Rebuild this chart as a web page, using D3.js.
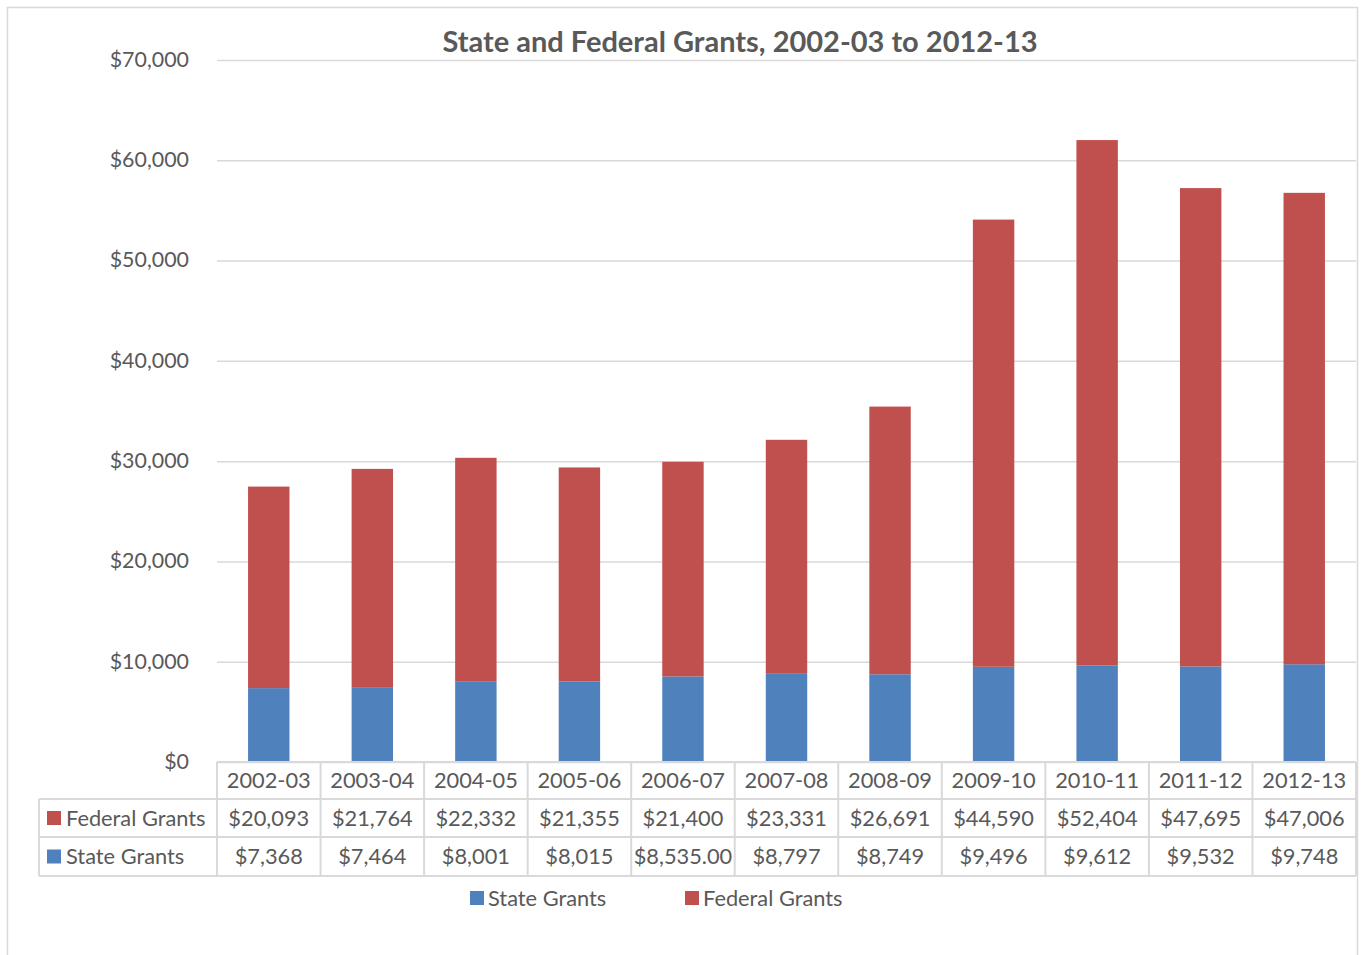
<!DOCTYPE html>
<html>
<head>
<meta charset="utf-8">
<script src="https://cdn.jsdelivr.net/npm/d3@7"></script>
<style>
  html, body { margin: 0; padding: 0; background: #fff; }
  svg { display: block; }
  text { font-family: Lato, "Open Sans", sans-serif; fill: #595959; }
</style>
</head>
<body>
<svg id="chart" width="1364" height="955"></svg>
<script>
// Grant amounts by school year
const years = ["2002-03","2003-04","2004-05","2005-06","2006-07","2007-08","2008-09","2009-10","2010-11","2011-12","2012-13"];
const federalGrants = [20093, 21764, 22332, 21355, 21400, 23331, 26691, 44590, 52404, 47695, 47006];
const stateGrants = [7368, 7464, 8001, 8015, 8535, 8797, 8749, 9496, 9612, 9532, 9748];
const stateLabels = ["$7,368","$7,464","$8,001","$8,015","$8,535.00","$8,797","$8,749","$9,496","$9,612","$9,532","$9,748"];
const yTicks = [0, 10000, 20000, 30000, 40000, 50000, 60000, 70000];

const BLUE = "#4F81BD", RED = "#C0504D", GRID = "#D9D9D9", TEXT = "#595959";
const FS = 21.8;

const svg = d3.select("#chart");

// outer chart frame
svg.append("rect").attr("x", 7.5).attr("y", 7.5).attr("width", 1350).attr("height", 960)
  .attr("fill", "none").attr("stroke", GRID).attr("stroke-width", 1.5);

const plot = { left: 217, right: 1356, top: 60, bottom: 762 };

const x = d3.scaleBand().domain(years).range([plot.left, plot.right]).paddingInner(0).paddingOuter(0);
const y = d3.scaleLinear().domain([0, 70000]).range([plot.bottom, plot.top]);

// gridlines + y labels
const yAxis = d3.axisLeft(y).tickValues(yTicks).tickSize(-(plot.right - plot.left))
  .tickFormat(d => "$" + d3.format(",")(d)).tickPadding(28);
const gy = svg.append("g").attr("transform", `translate(${plot.left},0)`).call(yAxis);
gy.select(".domain").remove();
gy.selectAll(".tick line").attr("stroke", GRID).attr("stroke-width", 1.5);
gy.selectAll(".tick text").attr("font-size", 21.4).style("fill", TEXT)
  .attr("font-family", "Lato, 'Open Sans', sans-serif").attr("dy", "0.3em");

// stacked bars
const series = d3.stack().keys(["state", "federal"])(
  years.map((yr, i) => ({ year: yr, state: stateGrants[i], federal: federalGrants[i] }))
);
const colors = { state: BLUE, federal: RED };
const barW = x.bandwidth() * 0.4;
svg.append("g").selectAll("g").data(series).join("g")
  .attr("fill", s => colors[s.key])
  .selectAll("rect").data(s => s).join("rect")
  .attr("x", d => x(d.data.year) + (x.bandwidth() - barW) / 2)
  .attr("width", barW)
  .attr("y", d => y(d[1]))
  .attr("height", d => y(d[0]) - y(d[1]));

// data table under the axis
const rowTop = [762, 799, 837];
const rowBot = [799, 837, 876];
const tableLeft = 39;
const t = svg.append("g");
const line = (x1, y1, x2, y2) => t.append("line").attr("x1", x1).attr("y1", y1).attr("x2", x2).attr("y2", y2)
  .attr("stroke", GRID).attr("stroke-width", 2);

// horizontal rules
line(plot.left, rowTop[0], plot.right, rowTop[0]);
line(tableLeft, rowTop[1], plot.right, rowTop[1]);
line(tableLeft, rowTop[2], plot.right, rowTop[2]);
line(tableLeft, rowBot[2], plot.right, rowBot[2]);
// vertical rules
line(tableLeft, rowTop[1], tableLeft, rowBot[2]);
const edges = years.map(d => x(d)).concat([plot.right]);
edges.forEach(ex => line(ex, rowTop[0], ex, rowBot[2]));

const cellText = (tx, ty, s, anchor) => t.append("text").attr("x", tx).attr("y", ty)
  .attr("text-anchor", anchor || "middle").attr("dominant-baseline", "central")
  .attr("font-size", FS).text(s);

years.forEach((yr, i) => {
  const cx = x(yr) + x.bandwidth() / 2;
  cellText(cx, (rowTop[0] + rowBot[0]) / 2 - 1, yr);
  cellText(cx, (rowTop[1] + rowBot[1]) / 2 - 1, "$" + d3.format(",")(federalGrants[i]));
  cellText(cx, (rowTop[2] + rowBot[2]) / 2 - 1, stateLabels[i]);
});

// row headers with legend keys
[["Federal Grants", RED, 1], ["State Grants", BLUE, 2]].forEach(([name, col, r]) => {
  const cy = (rowTop[r] + rowBot[r]) / 2;
  t.append("rect").attr("x", 47).attr("y", cy - 7).attr("width", 14).attr("height", 14).attr("fill", col);
  cellText(66, cy - 1, name, "start");
});

// legend
const legend = svg.append("g");
[["State Grants", BLUE, 470], ["Federal Grants", RED, 685]].forEach(([name, col, lx]) => {
  legend.append("rect").attr("x", lx).attr("y", 891).attr("width", 14).attr("height", 14).attr("fill", col);
  legend.append("text").attr("x", lx + 18).attr("y", 897).attr("dominant-baseline", "central")
    .attr("font-size", FS).text(name);
});

// title
svg.append("text").attr("x", 740).attr("y", 40).attr("text-anchor", "middle")
  .attr("dominant-baseline", "central").attr("font-size", 29).attr("font-weight", "bold")
  .text("State and Federal Grants, 2002-03 to 2012-13");
</script>
</body>
</html>
